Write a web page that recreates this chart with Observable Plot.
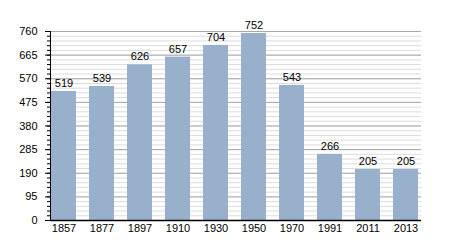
<!DOCTYPE html>
<html>
<head>
<meta charset="utf-8">
<script src="https://cdn.jsdelivr.net/npm/d3@7"></script>
<script src="https://cdn.jsdelivr.net/npm/@observablehq/plot@0.6"></script>
<style>
  html, body { margin: 0; padding: 0; background: #fff; }
  #chart { width: 450px; height: 250px; }
</style>
</head>
<body>
<div id="chart"></div>
<script>
const years = ["1857", "1877", "1897", "1910", "1930", "1950", "1970", "1991", "2011", "2013"];
const population = [519, 539, 626, 657, 704, 752, 543, 266, 205, 205];
const yMajorTicks = [0, 95, 190, 285, 380, 475, 570, 665, 760];
const yMinorTicks = d3.range(0, 761, 19);

const data = years.map((y, i) => ({year: y, value: population[i]}));

const chart = Plot.plot({
  width: 450,
  height: 250,
  marginLeft: 50,
  marginRight: 29,
  marginTop: 31,
  marginBottom: 30,
  style: {fontFamily: "Liberation Sans, Arial, sans-serif", fontSize: "11px", color: "#000", background: "#fff"},
  x: {domain: years, range: [51, 421], paddingInner: 0.33, paddingOuter: 0, align: 0, label: null},
  y: {domain: [0, 760], label: null},
  marks: [
    Plot.ruleY(yMinorTicks, {stroke: "#dcdcdc", strokeWidth: 1}),
    Plot.ruleY(yMajorTicks, {stroke: "#a8a8a8", strokeWidth: 1}),
    Plot.barY(data, {x: "year", y: "value", fill: "#98b0cc"}),
    Plot.text(data, {x: "year", y: "value", text: d => String(d.value), dy: -8, fill: "#000", fontSize: 11}),
    Plot.axisY({ticks: yMinorTicks, tickSize: 3, text: null, label: null, stroke: "#000"}),
    Plot.axisY({ticks: yMajorTicks, tickSize: 5, tickPadding: 8, label: null, stroke: "#000", fill: "#000"}),
    Plot.axisX({tickSize: 0, tickPadding: 4, label: null, fill: "#000"}),
    Plot.frame({anchor: "left", stroke: "#000"}),
    Plot.ruleY([0], {stroke: "#000", strokeWidth: 1.5})
  ]
});
document.getElementById("chart").appendChild(chart);
</script>
</body>
</html>
